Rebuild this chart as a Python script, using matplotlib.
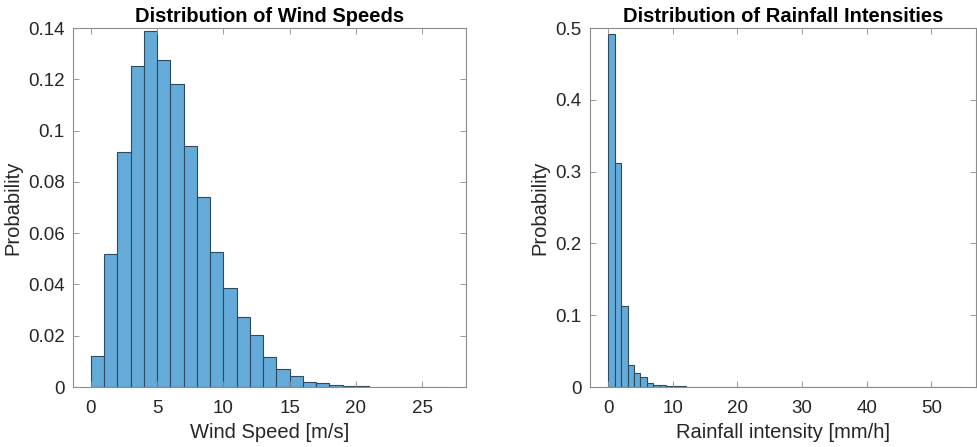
import numpy as np
import matplotlib
matplotlib.use('Agg')
import matplotlib.pyplot as plt

plt.rcParams['font.family'] = ['Liberation Sans', 'DejaVu Sans']

# wind speed histogram (bin width 1 m/s, starting at 0)
wind_edges = np.arange(0, 28)
wind_prob = [0.0121, 0.0520, 0.0916, 0.1252, 0.1387, 0.1275, 0.1180, 0.0939,
             0.0741, 0.0525, 0.0386, 0.0273, 0.0204, 0.0118, 0.0069, 0.0044,
             0.0018, 0.0017, 0.0009, 0.0004, 0.0003, 0.0001, 0.0001, 0.00005,
             0.00005, 0.0001, 0.0001]

# rainfall intensity histogram (bin width 1 mm/h, starting at 0)
rain_edges = np.arange(0, 56)
rain_prob = [0.4916, 0.3120, 0.1133, 0.0306, 0.0195, 0.0135, 0.0060, 0.0030,
             0.0023, 0.0018, 0.0012, 0.0008, 0.0004, 0.0003, 0.0002, 0.0002,
             0.0001, 0.0001, 0.0001, 0.00005, 0.00005, 0.00005, 0.00005, 0.00005,
             0.00003, 0.00003, 0.00003, 0.00003, 0.00003, 0.00002, 0.00002, 0.00002,
             0.00002, 0.00002, 0.00002, 0.00001, 0.00001, 0.00001, 0.00001, 0.00001,
             0.00001, 0.00001, 0.00001, 0.00001, 0.00001, 0.00001, 0.00001, 0.00001,
             0.00001, 0.00001, 0.00001, 0.00001, 0.00001, 0.00001, 0.00001]

face = '#64abd9'
edge = '#2e4a5e'
spine = '#8c8c8c'
txt = '#262626'

fig = plt.figure(figsize=(9.77, 4.47), dpi=100)
ax1 = fig.add_axes([0.0747, 0.1342, 0.4022, 0.8031])
ax2 = fig.add_axes([0.6039, 0.1342, 0.3951, 0.8031])


def style(ax):
    for s in ax.spines.values():
        s.set_color(spine)
        s.set_linewidth(0.8)
    ax.tick_params(direction='in', length=4, width=0.6, color=spine,
                   labelcolor=txt, labelsize=13.5, top=True, right=True, pad=6)
    ax.tick_params(axis='x', pad=9)


ax1.bar(wind_edges[:-1], wind_prob, width=np.diff(wind_edges), align='edge',
        color=face, edgecolor=edge, linewidth=0.8)
ax1.set_xlim(-1.35, 28.3)
ax1.set_ylim(0, 0.14)
ax1.set_xticks([0, 5, 10, 15, 20, 25])
ax1.set_yticks(np.arange(0, 0.141, 0.02))
ax1.set_yticklabels(['0', '0.02', '0.04', '0.06', '0.08', '0.1', '0.12', '0.14'])
ax1.set_xlabel('Wind Speed [m/s]', fontsize=14.5, color=txt, labelpad=5)
ax1.set_ylabel('Probability', fontsize=14.5, color=txt)
ax1.set_title('Distribution of Wind Speeds', fontsize=14.5, fontweight='bold', pad=4)
style(ax1)

ax2.bar(rain_edges[:-1], rain_prob, width=np.diff(rain_edges), align='edge',
        color=face, edgecolor=edge, linewidth=0.8)
ax2.set_xlim(-2.8, 56.9)
ax2.set_ylim(0, 0.5)
ax2.set_xticks([0, 10, 20, 30, 40, 50])
ax2.set_yticks([0, 0.1, 0.2, 0.3, 0.4, 0.5])
ax2.set_yticklabels(['0', '0.1', '0.2', '0.3', '0.4', '0.5'])
ax2.set_xlabel('Rainfall intensity [mm/h]', fontsize=14.5, color=txt, labelpad=5)
ax2.set_ylabel('Probability', fontsize=14.5, color=txt)
ax2.set_title('Distribution of Rainfall Intensities', fontsize=14.5, fontweight='bold', pad=4)
style(ax2)

fig.savefig('out.png', dpi=100)
